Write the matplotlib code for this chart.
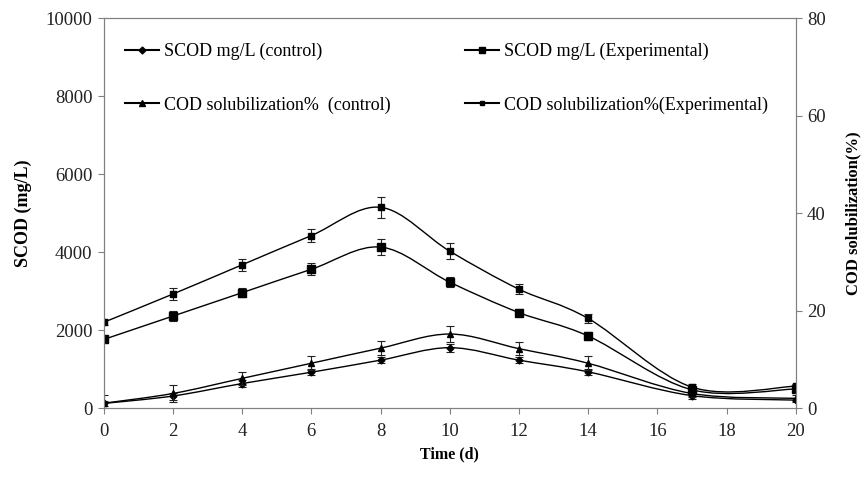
import numpy as np
import matplotlib
matplotlib.use("Agg")
import matplotlib.pyplot as plt
from matplotlib.path import Path
from matplotlib.patches import PathPatch
from matplotlib.lines import Line2D

plt.rcParams['font.family'] = ['Liberation Serif', 'DejaVu Serif']

# time (d)
days = [0, 2, 4, 6, 8, 10, 12, 14, 17, 20]

# SCOD mg/L (left axis)
scod_ctrl = [120, 310, 630, 920, 1230, 1550, 1230, 930, 320, 205]
scod_ctrl_err = [60, 90, 80, 80, 80, 100, 80, 80, 80, 60]
scod_exp = [1760, 2360, 2960, 3560, 4130, 3230, 2450, 1850, 470, 490]
scod_exp_err = [50, 120, 120, 150, 200, 120, 100, 100, 80, 60]

# COD solubilization % (right axis)
sol_ctrl = [1.0, 3.0, 6.1, 9.2, 12.3, 15.2, 12.2, 9.2, 3.0, 2.0]
sol_ctrl_err = [1.6, 1.8, 1.4, 1.4, 1.4, 1.6, 1.4, 1.4, 0.8, 0.6]
sol_exp = [17.6, 23.4, 29.4, 35.4, 41.2, 32.2, 24.4, 18.4, 4.3, 4.5]
sol_exp_err = [0.6, 1.2, 1.2, 1.4, 2.2, 1.6, 1.0, 1.0, 0.6, 0.5]


def smooth_path(x, y):
    # Catmull-Rom style bezier through the points (like Excel smoothed line)
    x = np.asarray(x, float)
    y = np.asarray(y, float)
    verts = [(x[0], y[0])]
    codes = [Path.MOVETO]
    n = len(x)
    for i in range(n - 1):
        i0 = max(i - 1, 0)
        i3 = min(i + 2, n - 1)
        c1 = (x[i] + (x[i + 1] - x[i0]) / 6, y[i] + (y[i + 1] - y[i0]) / 6)
        c2 = (x[i + 1] - (x[i3] - x[i]) / 6, y[i + 1] - (y[i3] - y[i]) / 6)
        verts += [c1, c2, (x[i + 1], y[i + 1])]
        codes += [Path.CURVE4] * 3
    return Path(verts, codes)


def draw(ax, y, err, marker, ms):
    ax.add_patch(PathPatch(smooth_path(days, y), fill=False, color='black', lw=1.0))
    ax.errorbar(days, y, yerr=err, fmt=marker, color='black', ms=ms,
                ecolor='#222222', elinewidth=0.8, capsize=3, capthick=0.8)


fig = plt.figure(figsize=(8.64, 4.79), dpi=100)
ax = fig.add_axes([0.120, 0.148, 0.801, 0.814])
ax2 = ax.twinx()

draw(ax, scod_ctrl, scod_ctrl_err, 'D', 3.5)
draw(ax, scod_exp, scod_exp_err, 's', 5.5)
draw(ax2, sol_ctrl, sol_ctrl_err, '^', 5)
draw(ax2, sol_exp, sol_exp_err, 's', 4.2)

ax.set_xlim(0, 20)
ax.set_ylim(0, 10000)
ax2.set_ylim(0, 80)
ax.set_xticks(range(0, 21, 2))
ax.set_yticks(range(0, 10001, 2000))
ax2.set_yticks(range(0, 81, 20))

for a in (ax, ax2):
    for s in a.spines.values():
        s.set_color('#808080')
    a.tick_params(colors='#808080', labelcolor='#222222', labelsize=13.5,
                  length=4.5, direction='out')
ax.tick_params(axis='x', pad=6)

ax.set_xlabel('Time (d)', fontweight='bold', fontsize=11.5, labelpad=5)
ax.set_ylabel('SCOD (mg/L)', fontweight='bold', fontsize=13, labelpad=10)
ax2.set_ylabel('COD solubilization(%)', fontweight='bold', fontsize=12, labelpad=14)

handles = [
    Line2D([], [], color='black', marker='D', ms=3.5),
    Line2D([], [], color='black', marker='^', ms=4.5),
    Line2D([], [], color='black', marker='s', ms=5),
    Line2D([], [], color='black', marker='s', ms=3.5),
]
labels = ['SCOD mg/L (control)', 'COD solubilization%  (control)',
          'SCOD mg/L (Experimental)', 'COD solubilization%(Experimental)']
ax.legend(handles, labels, ncol=2, frameon=False, loc='upper left',
          bbox_to_anchor=(0.008, 0.978), fontsize=13, handlelength=1.85,
          handletextpad=0.28, columnspacing=4.15, labelspacing=2.0)

fig.savefig('out.png', dpi=100)
